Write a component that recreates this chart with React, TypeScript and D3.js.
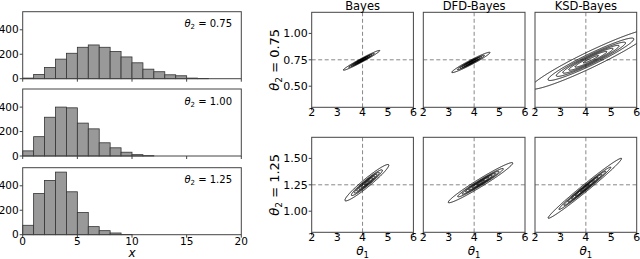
import React, { useEffect, useMemo } from 'react';
import * as d3 from 'd3';

// histogram counts, unit-width bins starting at x = 0
const binEdgesStart = 0;
const histTheta2 = ['0.75', '1.00', '1.25'];
const counts075 = [5, 35, 92, 160, 208, 257, 276, 257, 222, 178, 130, 78, 57, 32, 24, 5, 2];
const counts100 = [42, 158, 317, 400, 394, 269, 222, 108, 67, 31, 11, 3];
const counts125 = [77, 337, 444, 512, 351, 181, 66, 33, 14, 2];
const histCounts = [counts075, counts100, counts125];
const histXTicks = [0, 5, 10, 15, 20];
const histYTicks = [0, 200, 400];

// posterior panels (rows: theta2 = 0.75, 1.25; cols: methods)
const methods = ['Bayes', 'DFD-Bayes', 'KSD-Bayes'];
const rowTheta2 = [0.75, 1.25];
const rowLabels = ['0.75', '1.25'];
const rowYTicks = [[0.5, 0.75, 1.0], [1.0, 1.25, 1.5]];
const trueTheta1 = 4;
const postXTicks = [2, 3, 4, 5, 6];
const meanT1 = [[3.96, 3.87, 4.2], [4.17, 4.25, 3.96]];
const meanT2 = [[0.745, 0.725, 0.755], [1.27, 1.27, 1.217]];
const sdT1 = [[0.283, 0.297, 0.94], [0.34, 0.5, 0.569]];
const sdT2 = [[0.037, 0.038, 0.112], [0.068, 0.075, 0.112]];
const rhoT = [[0.98, 0.97, 0.955], [0.959, 0.975, 0.989]];
const levelFractions = [0.04, 0.2, 0.35, 0.5, 0.65, 0.8, 0.95];

const FONT = 'DejaVu Sans, sans-serif';

const Hist: React.FC<{ idx: number; top: number }> = ({ idx, top }) => {
  const h = 67;
  const x = d3.scaleLinear().domain([0, 20]).range([22.7, 241.3]);
  const y = d3.scaleLinear().domain([0, 548]).range([top + h, top]);
  const counts = histCounts[idx];
  const last = idx === 2;
  return (
    <g>
      {counts.map((c, i) => (
        <rect key={i} x={x(binEdgesStart + i)} y={y(c)} width={x(i + 1) - x(i)} height={y(0) - y(c)}
          fill="#999" stroke="#333" strokeWidth={0.8} />
      ))}
      <rect x={x(0)} y={top} width={x(20) - x(0)} height={h} fill="none" stroke="#444" strokeWidth={1} />
      {histYTicks.map(t => (
        <g key={t}>
          <line x1={x(0) - 3} x2={x(0)} y1={y(t)} y2={y(t)} stroke="#444" />
          <text x={x(0) - 4} y={y(t)} dy="0.35em" textAnchor="end" fontSize={10.5} fontFamily={FONT}>{t}</text>
        </g>
      ))}
      {histXTicks.map(t => (
        <g key={t}>
          <line x1={x(t)} x2={x(t)} y1={top + h} y2={top + h + 3} stroke="#444" />
          {last && <text x={x(t)} y={top + h + 10} textAnchor="middle" fontSize={10.5} fontFamily={FONT}>{t}</text>}
        </g>
      ))}
      <text x={232} y={top + 15.5} textAnchor="end" fontSize={10} fontFamily={FONT}>
        <tspan fontStyle="italic">θ</tspan><tspan fontSize={7} dy={2}>2</tspan><tspan dy={-2}> = {histTheta2[idx]}</tspan>
      </text>
      {last && (
        <text x={132} y={257} textAnchor="middle" fontSize={12} fontStyle="italic" fontFamily={FONT}>x</text>
      )}
    </g>
  );
};

const Posterior: React.FC<{ r: number; c: number; left: number; top: number }> = ({ r, c, left, top }) => {
  const w = 101.7;
  const h = 95;
  const y0 = rowTheta2[r];
  const x = d3.scaleLinear().domain([2, 6]).range([left, left + w]);
  const y = d3.scaleLinear().domain([y0 - 0.45, y0 + 0.45]).range([top + h, top]);

  const paths = useMemo(() => {
    const gx0 = 1, gx1 = 7, gy0 = y0 - 0.75, gy1 = y0 + 0.75;
    const step = 1 / 3; // pixels per grid cell
    const pxW = x(gx1) - x(gx0);
    const pxH = y(gy0) - y(gy1);
    const n = Math.ceil(pxW / step);
    const m = Math.ceil(pxH / step);
    const m1 = meanT1[r][c], m2 = meanT2[r][c], s1 = sdT1[r][c], s2 = sdT2[r][c], rho = rhoT[r][c];
    const vals = new Float64Array(n * m);
    for (let j = 0; j < m; j++) {
      const t2 = gy1 - ((j + 0.5) / m) * (gy1 - gy0);
      const z2 = (t2 - m2) / s2;
      for (let i = 0; i < n; i++) {
        const t1 = gx0 + ((i + 0.5) / n) * (gx1 - gx0);
        const z1 = (t1 - m1) / s1;
        vals[j * n + i] = Math.exp(-0.5 * (z1 * z1 - 2 * rho * z1 * z2 + z2 * z2) / (1 - rho * rho));
      }
    }
    const contours = d3.contours().size([n, m]).thresholds(levelFractions)(Array.from(vals));
    const ox = x(gx0), oy = y(gy1);
    const proj = d3.geoTransform({
      point(px: number, py: number) {
        this.stream.point(ox + (px * pxW) / n, oy + (py * pxH) / m);
      },
    });
    const path = d3.geoPath(proj);
    return contours.map(ct => path(ct) || '');
  }, [r, c]);

  const clipId = `clip-${r}-${c}`;
  return (
    <g>
      <defs>
        <clipPath id={clipId}><rect x={left} y={top} width={w} height={h} /></clipPath>
      </defs>
      <g clipPath={`url(#${clipId})`}>
        <line x1={x(trueTheta1)} x2={x(trueTheta1)} y1={top} y2={top + h} stroke="#888" strokeDasharray="4,2.5" />
        <line x1={left} x2={left + w} y1={y(y0)} y2={y(y0)} stroke="#888" strokeDasharray="4,2.5" />
        {paths.map((d, i) => (
          <path key={i} d={d} fill="none" stroke="#000" strokeWidth={0.9} />
        ))}
      </g>
      <rect x={left} y={top} width={w} height={h} fill="none" stroke="#444" strokeWidth={1} />
      {postXTicks.map(t => (
        <g key={t}>
          <line x1={x(t)} x2={x(t)} y1={top + h} y2={top + h + 3} stroke="#444" />
          <text x={x(t)} y={top + h + 9} textAnchor="middle" fontSize={11} fontFamily={FONT}>{t}</text>
        </g>
      ))}
      {c === 0 && rowYTicks[r].map(t => (
        <g key={t}>
          <line x1={left - 3} x2={left} y1={y(t)} y2={y(t)} stroke="#444" />
          <text x={left - 4} y={y(t)} dy="0.35em" textAnchor="end" fontSize={11} fontFamily={FONT}>{t.toFixed(2)}</text>
        </g>
      ))}
      {r === 0 && (
        <text x={left + w / 2} y={10} textAnchor="middle" fontSize={11.5} fontFamily={FONT}>{methods[c]}</text>
      )}
      {r === 1 && (
        <text x={left + w / 2} y={255} textAnchor="middle" fontSize={12} fontFamily={FONT}>
          <tspan fontStyle="italic">θ</tspan><tspan fontSize={8.5} dy={2.5}>1</tspan>
        </text>
      )}
      {c === 0 && (
        <text transform={`translate(279,${top + h / 2}) rotate(-90)`} textAnchor="middle" fontSize={13} fontFamily={FONT}>
          <tspan fontStyle="italic">θ</tspan><tspan fontSize={9} dy={2.5}>2</tspan><tspan dy={-2.5}> = {rowLabels[r]}</tspan>
        </text>
      )}
    </g>
  );
};

const App: React.FC = () => {
  useEffect(() => {
    document.body.style.margin = '0';
  }, []);
  const histTops = [11.7, 89, 167.7];
  const colLefts = [311.7, 423.3, 535];
  const rowTops = [12.3, 137.3];
  return (
    <svg width={640} height={259} style={{ display: 'block', background: '#fff' }}>
      {histTops.map((t, i) => <Hist key={i} idx={i} top={t} />)}
      {rowTops.map((t, r) => colLefts.map((l, c) => (
        <Posterior key={`${r}-${c}`} r={r} c={c} left={l} top={t} />
      )))}
    </svg>
  );
};

export default App;
